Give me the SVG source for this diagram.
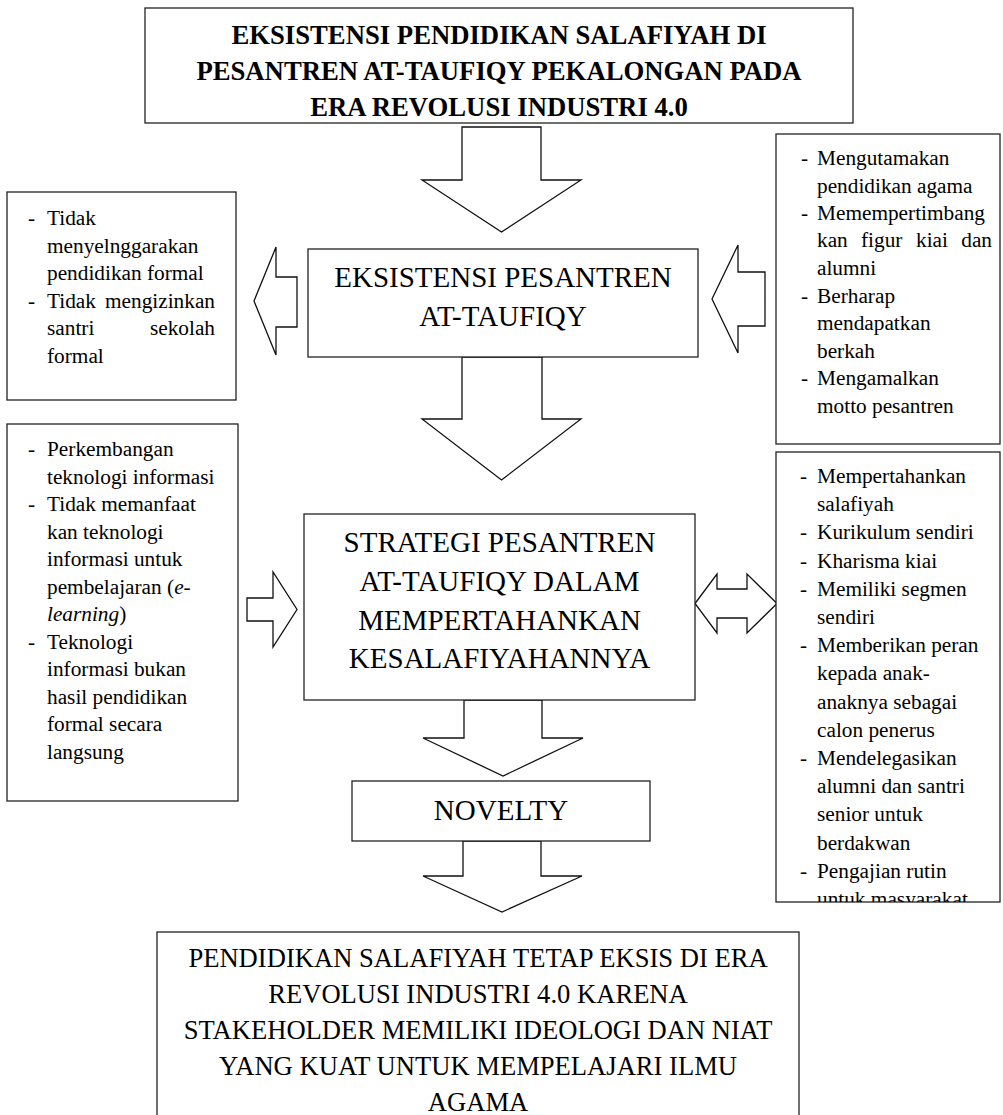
<svg xmlns="http://www.w3.org/2000/svg" width="1003" height="1115" viewBox="0 0 1003 1115">
<defs>
<style>
.box{fill:#fff;stroke:#222;stroke-width:1.3}
.arr{fill:#fff;stroke:#111;stroke-width:1.3;stroke-linejoin:miter}
.t{font-family:"Liberation Serif","Times New Roman",serif;fill:#000}
.title{font-size:26.7px;font-weight:bold;text-anchor:middle}
.big{font-size:29px;text-anchor:middle}
.bot{font-size:26.6px;text-anchor:middle}
.s{font-size:21.3px}
.e{text-anchor:end}
.i{font-style:italic}
</style>
<clipPath id="clipRB"><rect x="776" y="452" width="224" height="450"/></clipPath>
</defs>
<rect width="1003" height="1115" fill="#fff"/>

<g id="connectors">
<polygon class="arr" points="462,127 541,127 541,180 581,180 501.5,232 422,180 462,180"/>
<polygon class="arr" points="462,357 542,357 542,419 581,419 501.5,480 422,419 462,419"/>
<polygon class="arr" points="254,301 276,247 276,277 297,277 297,327 276,327 276,355"/>
<polygon class="arr" points="712,299 738,245 738,272 765,272 765,326 738,326 738,353"/>
<polygon class="arr" points="247,598 273,598 273,572 297,609.5 273,647 273,621 247,621"/>
<polygon class="arr" points="695,603.5 717,574 717,589 747,589 747,574 777,603.5 747,633 747,618 717,618 717,633"/>
<polygon class="arr" points="464,700 542,700 542,738 583,738 503,776 423,738 464,738"/>
<polygon class="arr" points="463,841 541,841 541,876 582,876 502,912 423,876 463,876"/>
</g>

<g id="node-title">
<rect class="box" x="145" y="8" width="708" height="115"/>
<text class="t title" x="499" y="43.5">EKSISTENSI PENDIDIKAN SALAFIYAH DI</text>
<text class="t title" x="499" y="80">PESANTREN AT-TAUFIQY PEKALONGAN PADA</text>
<text class="t title" x="499" y="116">ERA REVOLUSI INDUSTRI 4.0</text>
</g>

<g id="node-eksistensi">
<rect class="box" x="308" y="249" width="390" height="108"/>
<text class="t big" x="503" y="287">EKSISTENSI PESANTREN</text>
<text class="t big" x="503" y="326">AT-TAUFIQY</text>
</g>

<g id="node-left-top">
<rect class="box" x="7" y="192" width="229" height="208"/>
<g class="t s">
<text x="28" y="225">-</text><text x="47" y="225">Tidak</text>
<text x="47" y="253">menyelnggarakan</text>
<text x="47" y="280">pendidikan formal</text>
<text x="28" y="308">-</text><text x="47" y="308">Tidak</text><text class="e" x="215" y="308">mengizinkan</text>
<text x="47" y="335">santri</text><text class="e" x="215" y="335">sekolah</text>
<text x="47" y="363">formal</text>
</g>
</g>

<g id="node-right-top">
<rect class="box" x="776" y="134" width="224" height="310"/>
<g class="t s">
<text x="801" y="165">-</text><text x="817" y="165">Mengutamakan</text>
<text x="817" y="193">pendidikan agama</text>
<text x="801" y="220">-</text><text x="817" y="220">Memempertimbang</text>
<text x="817" y="247">kan</text><text x="861" y="247">figur</text><text x="916" y="247">kiai</text><text class="e" x="992" y="247">dan</text>
<text x="817" y="275">alumni</text>
<text x="801" y="303">-</text><text x="817" y="303">Berharap</text>
<text x="817" y="330">mendapatkan</text>
<text x="817" y="358">berkah</text>
<text x="801" y="385">-</text><text x="817" y="385">Mengamalkan</text>
<text x="817" y="413">motto pesantren</text>
</g>
</g>

<g id="node-left-bottom">
<rect class="box" x="7" y="424" width="231" height="377"/>
<g class="t s">
<text x="28" y="456">-</text><text x="47" y="456">Perkembangan</text>
<text x="47" y="483.5">teknologi informasi</text>
<text x="28" y="511">-</text><text x="47" y="511">Tidak memanfaat</text>
<text x="47" y="538.5">kan teknologi</text>
<text x="47" y="566">informasi untuk</text>
<text x="47" y="593.5">pembelajaran (<tspan class="i">e-</tspan></text>
<text x="47" y="621"><tspan class="i">learning</tspan>)</text>
<text x="28" y="648.5">-</text><text x="47" y="648.5">Teknologi</text>
<text x="47" y="676">informasi bukan</text>
<text x="47" y="703.5">hasil pendidikan</text>
<text x="47" y="731">formal secara</text>
<text x="47" y="758.5">langsung</text>
</g>
</g>

<g id="node-strategi">
<rect class="box" x="304" y="514" width="391" height="186"/>
<text class="t big" x="499.5" y="552">STRATEGI PESANTREN</text>
<text class="t big" x="499.5" y="591">AT-TAUFIQY DALAM</text>
<text class="t big" x="499.5" y="630">MEMPERTAHANKAN</text>
<text class="t big" x="499.5" y="668">KESALAFIYAHANNYA</text>
</g>

<g id="node-right-bottom">
<rect class="box" x="776" y="452" width="224" height="450"/>
<g class="t s" clip-path="url(#clipRB)">
<text x="800" y="483">-</text><text x="817" y="483">Mempertahankan</text>
<text x="817" y="511.2">salafiyah</text>
<text x="800" y="539.4">-</text><text x="817" y="539.4">Kurikulum sendiri</text>
<text x="800" y="567.6">-</text><text x="817" y="567.6">Kharisma kiai</text>
<text x="800" y="595.8">-</text><text x="817" y="595.8">Memiliki segmen</text>
<text x="817" y="624">sendiri</text>
<text x="800" y="652.2">-</text><text x="817" y="652.2">Memberikan peran</text>
<text x="817" y="680.4">kepada anak-</text>
<text x="817" y="708.6">anaknya sebagai</text>
<text x="817" y="736.8">calon penerus</text>
<text x="800" y="765">-</text><text x="817" y="765">Mendelegasikan</text>
<text x="817" y="793.2">alumni dan santri</text>
<text x="817" y="821.4">senior untuk</text>
<text x="817" y="849.6">berdakwan</text>
<text x="800" y="877.8">-</text><text x="817" y="877.8">Pengajian rutin</text>
<text x="817" y="906">untuk masyarakat</text>
</g>
</g>

<g id="node-novelty">
<rect class="box" x="352" y="781" width="298" height="60"/>
<text class="t big" x="501" y="820">NOVELTY</text>
</g>

<g id="node-conclusion">
<rect class="box" x="157" y="932" width="642" height="200"/>
<text class="t bot" x="478" y="967">PENDIDIKAN SALAFIYAH TETAP EKSIS DI ERA</text>
<text class="t bot" x="478" y="1003">REVOLUSI INDUSTRI 4.0 KARENA</text>
<text class="t bot" x="478" y="1039">STAKEHOLDER MEMILIKI IDEOLOGI DAN NIAT</text>
<text class="t bot" x="478" y="1075">YANG KUAT UNTUK MEMPELAJARI ILMU</text>
<text class="t bot" x="478" y="1111">AGAMA</text>
</g>
</svg>
